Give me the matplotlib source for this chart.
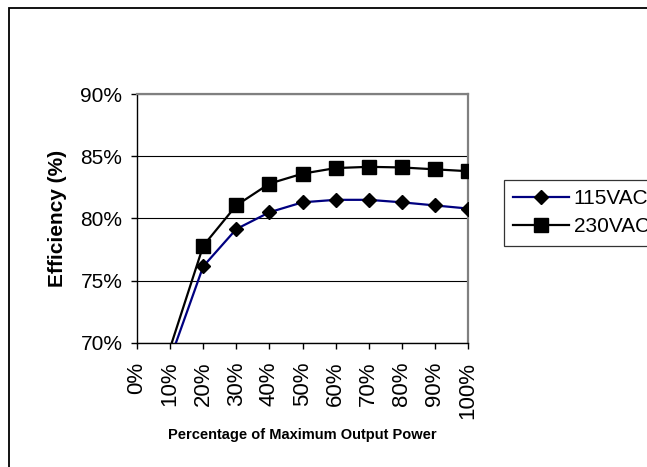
import matplotlib
matplotlib.use("Agg")
import matplotlib.pyplot as plt
import numpy as np
from matplotlib.patches import Rectangle

plt.rcParams['font.family'] = ['Liberation Sans', 'DejaVu Sans']

# data (percent)
load_pct = [10, 20, 30, 40, 50, 60, 70, 80, 90, 100]
eff_115vac = [68.7, 76.15, 79.15, 80.5, 81.3, 81.5, 81.5, 81.3, 81.05, 80.8]
eff_230vac = [69.6, 77.8, 81.05, 82.8, 83.6, 84.05, 84.15, 84.1, 83.95, 83.8]
x_ticks = [0, 10, 20, 30, 40, 50, 60, 70, 80, 90, 100]
y_ticks = [70, 75, 80, 85, 90]

fig = plt.figure(figsize=(6.47, 4.67), dpi=100)
ax = fig.add_axes([137/647, 1 - 343/467, 331/647, 249/467])

# outer chart border (cut at right and bottom like the original)
fig.patches.append(Rectangle((8.5/647, -0.2), 1.5, 1 - 7.5/467 + 0.2,
                             transform=fig.transFigure, fill=False,
                             edgecolor='black', linewidth=1.3))

y_min, y_max = y_ticks[0], y_ticks[-1]

series = [
    ('115VAC', eff_115vac, '#000080', 'D', 7.4),
    ('230VAC', eff_230vac, 'black', 's', 10.3),
]
for name, vals, col, mk, ms in series:
    vals = np.array(vals)
    # like Excel: points below the axis minimum get no marker, line is clipped
    shown = np.where(vals >= y_min, vals, np.nan)
    ax.plot(load_pct, vals, color=col, linewidth=1.6, zorder=3)
    ax.plot(load_pct, shown, linestyle='none', marker=mk, markersize=ms,
            markerfacecolor='black', markeredgecolor='black', zorder=4)
    ax.plot([], [], color=col, linewidth=1.6, marker=mk, markersize=ms,
            markerfacecolor='black', markeredgecolor='black', label=name)

ax.set_xlim(0, 100)
ax.set_ylim(y_min, y_max)
ax.set_xticks(x_ticks)
ax.set_xticklabels([f"{v}%" for v in x_ticks], rotation=90, fontsize=16)
ax.set_yticks(y_ticks)
ax.set_yticklabels([f"{v}%" for v in y_ticks], fontsize=15)
ax.tick_params(axis='both', direction='out', length=4.5, width=1, color='black')
ax.tick_params(axis='x', pad=9)
ax.tick_params(axis='y', pad=6)

ax.yaxis.grid(True, color='black', linewidth=0.8)
ax.set_axisbelow(True)

for side in ('left', 'bottom'):
    ax.spines[side].set_color('black')
    ax.spines[side].set_linewidth(1.0)
for side in ('top', 'right'):
    ax.spines[side].set_color('#808080')
    ax.spines[side].set_linewidth(1.6)

ax.set_ylabel('Efficiency (%)', fontsize=15, fontweight='bold', labelpad=10)
ax.set_xlabel('Percentage of Maximum Output Power', fontsize=10.5,
              fontweight='bold', labelpad=7)

leg = fig.legend(loc='upper left', bbox_to_anchor=(504/647, 1 - 180/467),
                 fontsize=15, frameon=True, fancybox=False, handlelength=2.65,
                 handletextpad=0.25, borderpad=0.45, labelspacing=0.42,
                 borderaxespad=0)
leg.get_frame().set_edgecolor('black')
leg.get_frame().set_linewidth(0.9)

plt.savefig('out.png', dpi=100)
